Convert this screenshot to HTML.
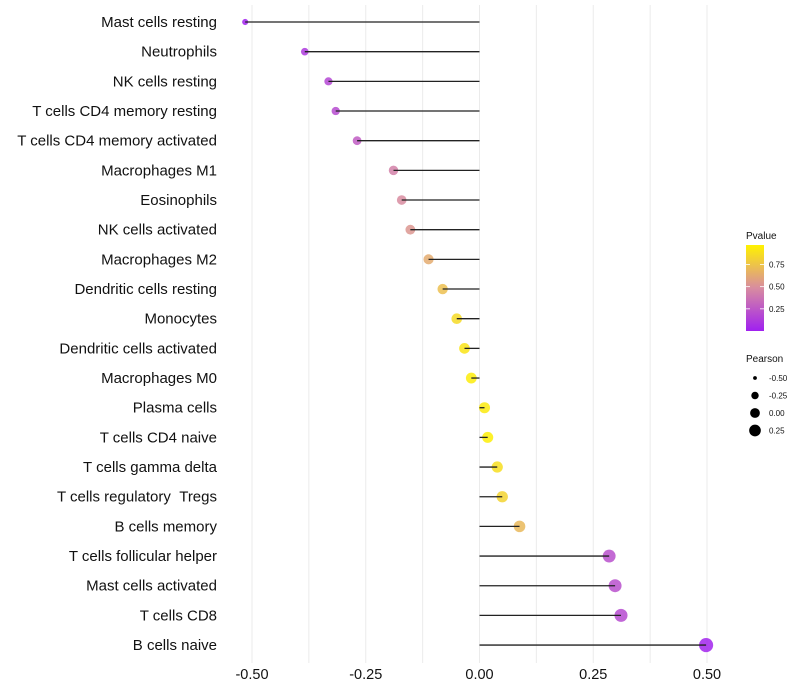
<!DOCTYPE html>
<html><head><meta charset="utf-8"><style>
body{margin:0;background:#fff;font-family:"Liberation Sans",sans-serif}
svg{display:block}
</style></head><body>
<svg id="chart" width="800" height="700"></svg>
<script>
const categories=["Mast cells resting","Neutrophils","NK cells resting","T cells CD4 memory resting","T cells CD4 memory activated","Macrophages M1","Eosinophils","NK cells activated","Macrophages M2","Dendritic cells resting","Monocytes","Dendritic cells activated","Macrophages M0","Plasma cells","T cells CD4 naive","T cells gamma delta","T cells regulatory \u00a0Tregs ","B cells memory","T cells follicular helper","Mast cells activated","T cells CD8","B cells naive"];
const pearson=[-0.515,-0.384,-0.332,-0.316,-0.269,-0.189,-0.171,-0.152,-0.112,-0.081,-0.050,-0.033,-0.018,0.011,0.018,0.039,0.050,0.088,0.285,0.298,0.311,0.498];
const pvalue=[0.01,0.12,0.18,0.2,0.28,0.45,0.5,0.55,0.65,0.75,0.88,0.93,0.97,0.96,0.98,0.9,0.85,0.72,0.22,0.22,0.2,0.02];
const xTicks=[-0.5,-0.25,0,0.25,0.5];
const xTickLabels=["-0.50","-0.25","0.00","0.25","0.50"];
const legendP=[0.25,0.5,0.75];
const legendPLabels=["0.25","0.50","0.75"];
const legendSize=[-0.5,-0.25,0,0.25];
const legendSizeLabels=["-0.50","-0.25","0.00","0.25"];

const NS="http://www.w3.org/2000/svg";
const svg=document.getElementById('chart');
function mk(tag,attrs,parent){const e=document.createElementNS(NS,tag);for(const k in attrs)e.setAttribute(k,attrs[k]);(parent||svg).appendChild(e);return e;}
const x=v=>479.5+v*455;
const y=i=>22+i*29.67;
const r=v=>Math.max(2,Math.sqrt(Math.max(1,30+40*v)));
const lr=v=>Math.sqrt(Math.max(1,26.5+45*v));
function lerp(a,b,t){return a.map((c,i)=>Math.round(c+(b[i]-c)*t));}
function color(p){const s=[[0,[160,32,240]],[0.5,[216,140,160]],[1,[255,242,0]]];
 p=Math.max(0,Math.min(1,p));const t=p<0.5?p/0.5:(p-0.5)/0.5;const c=p<0.5?lerp(s[0][1],s[1][1],t):lerp(s[1][1],s[2][1],t);return 'rgb('+c.join(',')+')';}

for(let g=-0.5;g<=0.5001;g+=0.125){
 const l=mk('line',{x1:x(g),x2:x(g),y1:5,y2:663,stroke:'#ebebeb','stroke-width':1});
 
 
}
xTicks.forEach((t,i)=>{
 const tx=mk('text',{x:x(t),y:679,'text-anchor':'middle','font-size':14.5,fill:'#111'});
 tx.textContent=xTickLabels[i];
 
 
});
categories.forEach((c,i)=>{
 const lb=mk('text',{x:217,y:y(i)+5,'text-anchor':'end','font-size':15,fill:'#111'});
 lb.textContent=c;
 
 
 const pt=mk('circle',{cx:x(pearson[i]),cy:y(i),r:r(pearson[i]),fill:color(pvalue[i]),'fill-opacity':0.85});
 
 
 const ln=mk('line',{x1:x(0),x2:x(pearson[i]),y1:y(i),y2:y(i),stroke:'#222','stroke-width':1.3});
 
 
});
const lt=mk('text',{x:746,y:239,'font-size':10,fill:'#111'});lt.textContent='Pvalue';


const defs=mk('defs',{});
const gr=mk('linearGradient',{id:'pg',x1:0,y1:1,x2:0,y2:0},defs);
[[0,0],[0.5,0.5],[1,1]].forEach(s=>mk('stop',{offset:s[0],'stop-color':color(s[1])},gr));
const barTop=245,barBot=331;const py=p=>barBot-p*(barBot-barTop)/0.97;
const bar=mk('rect',{x:746,y:barTop,width:18,height:barBot-barTop,fill:'url(#pg)'});


legendP.forEach((p,i)=>{
 mk('line',{x1:746,x2:750,y1:py(p),y2:py(p),stroke:'#fff','stroke-width':0.8});
 mk('line',{x1:760,x2:764,y1:py(p),y2:py(p),stroke:'#fff','stroke-width':0.8});
 const t=mk('text',{x:769,y:py(p)+3,'font-size':8,fill:'#111'});t.textContent=legendPLabels[i];
 
 
});
const st=mk('text',{x:746,y:362,'font-size':10,fill:'#111'});st.textContent='Pearson';


legendSize.forEach((v,i)=>{
 const cy=378+i*17.5;
 const c=mk('circle',{cx:755,cy:cy,r:lr(v)*0.95,fill:'#000'});
 
 
 const t=mk('text',{x:769,y:cy+3,'font-size':8,fill:'#111'});t.textContent=legendSizeLabels[i];
 
 
});
</script>
</body></html>
